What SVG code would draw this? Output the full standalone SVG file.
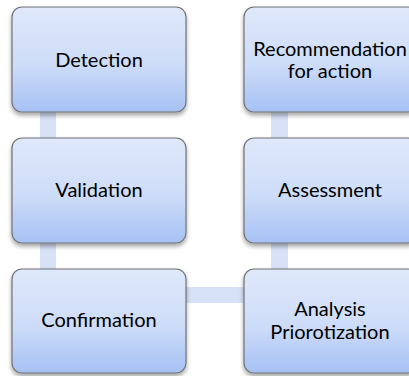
<svg xmlns="http://www.w3.org/2000/svg" width="409" height="376" viewBox="0 0 409 376">
  <defs>
    <linearGradient id="boxFill" x1="0" y1="0" x2="0" y2="1">
      <stop offset="0" stop-color="#e0e9fb"/>
      <stop offset="0.55" stop-color="#cddcf8"/>
      <stop offset="1" stop-color="#a6c1f4"/>
    </linearGradient>
    <filter id="shadow" x="-10%" y="-10%" width="120%" height="130%">
      <feDropShadow dx="0" dy="3" stdDeviation="2" flood-color="#000" flood-opacity="0.35"/>
    </filter>
  </defs>
  <style>
    .box { fill: url(#boxFill); stroke: #6f7275; stroke-width: 1.2; filter: url(#shadow); }
    .bar { fill: #d7e2f7; }
    .label { font-family: "Lato", "Liberation Sans", sans-serif; font-size: 20px; fill: #000; text-anchor: middle; }
  </style>

  <!-- connectors -->
  <g id="connectors">
    <rect class="bar" x="40" y="110" width="16" height="30"/>
    <rect class="bar" x="40" y="241" width="16" height="30"/>
    <rect class="bar" x="271" y="110" width="17" height="30"/>
    <rect class="bar" x="271" y="241" width="17" height="30"/>
    <rect class="bar" x="184" y="287" width="62" height="16"/>
  </g>

  <!-- left column -->
  <g id="detection">
    <rect class="box" x="12" y="7" width="174" height="105" rx="10"/>
    <text class="label" x="99" y="67">Detection</text>
  </g>
  <g id="validation">
    <rect class="box" x="12" y="138" width="174" height="105" rx="10"/>
    <text class="label" x="99" y="197">Validation</text>
  </g>
  <g id="confirmation">
    <rect class="box" x="12" y="269" width="174" height="104" rx="10"/>
    <text class="label" x="99" y="327">Confirmation</text>
  </g>

  <!-- right column -->
  <g id="recommendation">
    <rect class="box" x="244" y="7" width="174" height="105" rx="10"/>
    <text class="label" x="330" y="56">Recommendation</text>
    <text class="label" x="330" y="78">for action</text>
  </g>
  <g id="assessment">
    <rect class="box" x="244" y="138" width="174" height="105" rx="10"/>
    <text class="label" x="330" y="197">Assessment</text>
  </g>
  <g id="analysis">
    <rect class="box" x="244" y="269" width="174" height="104" rx="10"/>
    <text class="label" x="330" y="316">Analysis</text>
    <text class="label" x="330" y="339">Priorotization</text>
  </g>
</svg>
